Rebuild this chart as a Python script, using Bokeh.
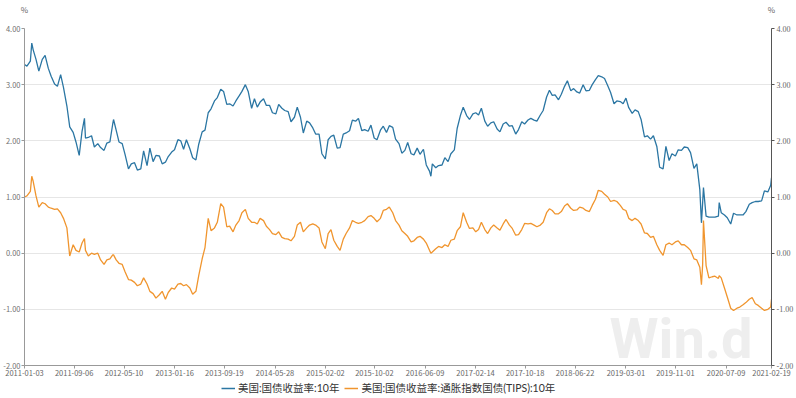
import pandas as pd
from bokeh.plotting import figure
from bokeh.layouts import column
from bokeh.models import (Range1d, LinearAxis, FixedTicker, NumeralTickFormatter,
                          DatetimeTickFormatter, CustomJSTickFormatter, Legend,
                          LegendItem, Label)
from bokeh.embed import file_html
from bokeh.resources import INLINE

# ---- data (semi-monthly readings: 1st and 15th of each month) ----
ten_year_2011 = [3.36, 3.33, 3.42, 3.62, 3.45, 3.24, 3.45, 3.52, 3.29, 3.15, 3.01, 2.97,
                 3.18, 2.95, 2.62, 2.25, 2.15, 1.98, 1.74, 2.17, 2.05, 2.06, 2.09, 1.89]
ten_year_2012 = [1.95, 1.88, 1.83, 1.96, 1.98, 2.30, 2.19, 1.98, 1.95, 1.76, 1.50, 1.59,
                 1.61, 1.48, 1.50, 1.82, 1.56, 1.87, 1.63, 1.74, 1.73, 1.59, 1.62, 1.72]
ten_year_2013 = [1.80, 1.84, 2.02, 2.00, 1.85, 2.02, 1.86, 1.70, 1.66, 1.94, 2.16, 2.19,
                 2.50, 2.57, 2.71, 2.77, 2.92, 2.88, 2.65, 2.66, 2.62, 2.71, 2.80, 2.88]
ten_year_2014 = [3.00, 2.88, 2.58, 2.75, 2.60, 2.69, 2.75, 2.63, 2.63, 2.50, 2.48, 2.65,
                 2.58, 2.54, 2.52, 2.34, 2.42, 2.60, 2.42, 2.14, 2.35, 2.32, 2.23, 2.12]
ten_year_2015 = [2.12, 1.77, 1.68, 2.02, 2.08, 2.10, 1.87, 1.88, 2.12, 2.14, 2.18, 2.37,
                 2.35, 2.40, 2.18, 2.20, 2.17, 2.28, 2.05, 2.02, 2.19, 2.26, 2.15, 2.27]
ten_year_2016 = [2.24, 2.03, 1.95, 1.78, 1.83, 1.97, 1.77, 1.75, 1.87, 1.76, 1.85, 1.57,
                 1.46, 1.59, 1.52, 1.56, 1.57, 1.70, 1.63, 1.77, 1.84, 2.22, 2.45, 2.60]
ten_year_2017 = [2.45, 2.38, 2.48, 2.50, 2.46, 2.58, 2.35, 2.26, 2.32, 2.34, 2.21, 2.16,
                 2.30, 2.33, 2.26, 2.27, 2.12, 2.20, 2.34, 2.30, 2.37, 2.40, 2.37, 2.35]
ten_year_2018 = [2.46, 2.54, 2.78, 2.90, 2.81, 2.82, 2.73, 2.83, 2.97, 3.07, 2.89, 2.93,
                 2.87, 2.85, 3.00, 2.89, 2.90, 3.00, 3.09, 3.16, 3.14, 3.11, 2.98, 2.86]
ten_year_2019 = [2.66, 2.71, 2.70, 2.66, 2.76, 2.59, 2.49, 2.55, 2.52, 2.38, 2.07, 2.09,
                 2.03, 2.09, 1.90, 1.53, 1.50, 1.90, 1.65, 1.77, 1.73, 1.84, 1.83, 1.89]
ten_year_2020 = [1.88, 1.79, 1.51, 1.59, 1.13, 0.90, 0.66, 0.64, 0.64, 0.64, 0.66, 0.72,
                 0.68, 0.63, 0.52, 0.71, 0.68, 0.68, 0.68, 0.74, 0.87, 0.90, 0.92, 0.92]
ten_year_2021 = [0.93, 1.11, 1.09, 1.21]

tips_2011 = [1.00, 1.02, 1.10, 1.28, 1.02, 0.82, 0.90, 0.88, 0.82, 0.80, 0.78, 0.79,
             0.72, 0.62, 0.45, -0.05, 0.15, 0.05, 0.02, 0.18, 0.05, -0.05, 0.00, -0.02]
tips_2012 = [0.00, -0.12, -0.20, -0.12, -0.10, -0.03, -0.12, -0.18, -0.20, -0.33, -0.47, -0.48,
             -0.52, -0.58, -0.55, -0.44, -0.55, -0.68, -0.72, -0.80, -0.74, -0.68, -0.82, -0.70]
tips_2013 = [-0.62, -0.64, -0.55, -0.54, -0.58, -0.56, -0.62, -0.73, -0.68, -0.40, -0.10, 0.10,
             0.62, 0.40, 0.45, 0.55, 0.88, 0.82, 0.47, 0.48, 0.38, 0.50, 0.58, 0.72]
tips_2014 = [0.78, 0.62, 0.55, 0.55, 0.52, 0.62, 0.58, 0.48, 0.42, 0.35, 0.33, 0.38,
             0.28, 0.26, 0.25, 0.22, 0.30, 0.50, 0.55, 0.38, 0.45, 0.50, 0.52, 0.50]
tips_2015 = [0.45, 0.20, 0.08, 0.35, 0.42, 0.23, 0.12, 0.05, 0.25, 0.35, 0.45, 0.58,
             0.55, 0.53, 0.55, 0.58, 0.65, 0.67, 0.62, 0.56, 0.62, 0.76, 0.78, 0.82]
tips_2016 = [0.72, 0.58, 0.50, 0.40, 0.35, 0.30, 0.20, 0.22, 0.28, 0.30, 0.25, 0.18,
             0.05, 0.02, 0.08, 0.12, 0.10, 0.15, 0.12, 0.23, 0.25, 0.40, 0.47, 0.72]
tips_2017 = [0.55, 0.44, 0.45, 0.38, 0.42, 0.55, 0.42, 0.35, 0.45, 0.50, 0.45, 0.41,
             0.52, 0.60, 0.50, 0.44, 0.32, 0.33, 0.42, 0.53, 0.52, 0.53, 0.50, 0.47]
tips_2018 = [0.50, 0.55, 0.72, 0.79, 0.76, 0.70, 0.70, 0.74, 0.84, 0.88, 0.80, 0.76,
             0.77, 0.82, 0.80, 0.76, 0.74, 0.85, 0.96, 1.12, 1.10, 1.05, 1.00, 0.92]
tips_2019 = [0.94, 0.92, 0.85, 0.78, 0.76, 0.62, 0.58, 0.62, 0.58, 0.52, 0.36, 0.35,
             0.28, 0.30, 0.15, 0.05, -0.04, 0.15, 0.18, 0.15, 0.20, 0.22, 0.15, 0.15]
tips_2020 = [0.10, 0.05, -0.10, -0.12, -0.25, -0.20, -0.22, -0.44, -0.42, -0.41, -0.45, -0.44,
             -0.62, -0.78, -0.98, -1.02, -0.98, -0.96, -0.92, -0.88, -0.82, -0.79, -0.90, -0.93]
tips_2021 = [-0.98, -1.02, -1.00, -0.96]

# extra readings at notable turning points
extra_dates = ["2011-02-08", "2011-10-27", "2012-03-19", "2016-07-08",
               "2020-03-09", "2020-03-19", "2020-06-05", "2021-02-19"]
extra_ten_year = [3.74, 2.40, 2.38, 1.37, 0.54, 1.17, 0.90, 1.34]
extra_tips = [1.37, 0.26, -0.03, 0.00, -0.56, 0.58, -0.40, -0.82]

x_tick_dates = ["2011-01-03", "2011-09-06", "2012-05-10", "2013-01-16", "2013-09-19",
                "2014-05-28", "2015-02-02", "2015-10-02", "2016-06-09", "2017-02-14",
                "2017-10-18", "2018-06-22", "2019-03-01", "2019-11-01", "2020-07-09",
                "2021-02-19"]
y_ticks = [-2, -1, 0, 1, 2, 3, 4]
unit_text = "%"

series_name_1 = "美国:国债收益率:10年"
series_name_2 = "美国:国债收益率:通胀指数国债(TIPS):10年"

ten_year = (ten_year_2011 + ten_year_2012 + ten_year_2013 + ten_year_2014 + ten_year_2015 +
            ten_year_2016 + ten_year_2017 + ten_year_2018 + ten_year_2019 + ten_year_2020 +
            ten_year_2021)
tips = (tips_2011 + tips_2012 + tips_2013 + tips_2014 + tips_2015 + tips_2016 + tips_2017 +
        tips_2018 + tips_2019 + tips_2020 + tips_2021)

grid = pd.date_range("2011-01-01", "2021-02-15", freq="SMS").tolist()
grid[0] = pd.Timestamp("2011-01-03")
assert len(grid) == len(ten_year) == len(tips)

df = pd.DataFrame({
    "date": grid + pd.to_datetime(extra_dates).tolist(),
    "nominal": ten_year + extra_ten_year,
    "real": tips + extra_tips,
}).sort_values("date").reset_index(drop=True)

BLUE = "#2b76a3"
ORANGE = "#f0952e"
FONT = "Noto Sans CJK SC"
LEGEND_FONT = "Lato, 'Noto Sans CJK SC'"

start = pd.Timestamp(x_tick_dates[0])
end = pd.Timestamp(x_tick_dates[-1])
to_ms = lambda t: pd.Timestamp(t).value / 1e6

p = figure(width=796, height=378, x_axis_type="datetime",
           x_range=Range1d(start, end), y_range=Range1d(-2, 4),
           output_backend="svg", toolbar_location=None,
           min_border_top=22, min_border_left=22, min_border_right=24, min_border_bottom=12)
p.outline_line_color = None
p.background_fill_color = "white"

r1 = p.line(df["date"], df["nominal"], line_color=BLUE, line_width=1.3)
r2 = p.line(df["date"], df["real"], line_color=ORANGE, line_width=1.3)

# grid
p.xgrid.grid_line_color = None
p.ygrid.ticker = FixedTicker(ticks=y_ticks)
p.ygrid.grid_line_color = "#e6e6e6"
p.ygrid.grid_line_width = 1

# x axis
xa = p.xaxis[0]
xa.ticker = FixedTicker(ticks=[to_ms(d) for d in x_tick_dates])
xa.formatter = DatetimeTickFormatter(days="%Y-%m-%d", months="%Y-%m-%d", years="%Y-%m-%d",
                                     hours="%Y-%m-%d", minutes="%Y-%m-%d", seconds="%Y-%m-%d",
                                     milliseconds="%Y-%m-%d", microseconds="%Y-%m-%d",
                                     hourmin="%Y-%m-%d", minsec="%Y-%m-%d")
xa.major_label_text_font = FONT
xa.major_label_text_font_size = "7.5px"
xa.major_label_text_color = "#666666"
xa.axis_line_color = "#999999"
xa.major_tick_line_color = "#999999"
xa.major_tick_out = 3
xa.major_tick_in = 0
xa.minor_tick_line_color = None
xa.major_label_standoff = 1

# "%" unit marks above both y axes
ua = LinearAxis(ticker=FixedTicker(ticks=[to_ms(start), to_ms(end)]),
                formatter=CustomJSTickFormatter(code="return '%s';" % unit_text))
ua.axis_line_color = None
ua.major_tick_line_color = None
ua.minor_tick_line_color = None
ua.major_label_standoff = 8
ua.major_label_text_font = FONT
ua.major_label_text_font_size = "8px"
ua.major_label_text_color = "#666666"
p.add_layout(ua, "above")

# left y axis
ya = p.yaxis[0]
ya.ticker = FixedTicker(ticks=y_ticks)
ya.formatter = NumeralTickFormatter(format="0.00")
ya.major_label_text_font = FONT
ya.major_label_text_font_size = "7.5px"
ya.major_label_text_color = "#707070"
ya.axis_line_color = "#999999"
ya.major_tick_line_color = "#999999"
ya.major_tick_out = 3
ya.major_tick_in = 0
ya.minor_tick_line_color = None
ya.major_label_standoff = 1

# right y axis
ra = LinearAxis(ticker=FixedTicker(ticks=y_ticks), formatter=NumeralTickFormatter(format="0.00"))
ra.major_label_text_font = "Liberation Serif"
ra.major_label_text_font_size = "8px"
ra.major_label_text_color = "#666666"
ra.axis_line_color = "#555555"
ra.major_tick_line_color = "#555555"
ra.major_tick_out = 3
ra.major_tick_in = 0
ra.minor_tick_line_color = None
ra.major_label_standoff = 2
p.add_layout(ra, "right")

# watermark
p.add_layout(Label(x=pd.Timestamp("2018-12-10"), y=-1.52, text="Win.d",
                   text_font="Roboto", text_font_style="bold", text_font_size="56px",
                   text_color="#eeeeee", text_baseline="alphabetic", level="underlay"))

# legend strip below the chart (series drawn out of view; only the key shows)
lg = figure(width=796, height=20, output_backend="svg", toolbar_location=None,
            x_axis_type="datetime", x_axis_location=None, y_axis_location=None, min_border=0,
            x_range=Range1d(start, end), y_range=Range1d(10, 11))
lg.outline_line_color = None
lg.xgrid.grid_line_color = None
lg.ygrid.grid_line_color = None
k1 = lg.line(df["date"], df["nominal"], line_color=BLUE, line_width=1.5)
k2 = lg.line(df["date"], df["real"], line_color=ORANGE, line_width=1.5)
legend = Legend(items=[LegendItem(label=series_name_1, renderers=[k1]),
                       LegendItem(label=series_name_2, renderers=[k2])],
                orientation="horizontal", location=(197, 3),
                label_text_font=LEGEND_FONT, label_text_font_size="10.5px",
                label_text_color="#333333", glyph_width=14, glyph_height=10,
                label_height=12, label_standoff=3, spacing=5, padding=1, margin=0,
                border_line_color=None, background_fill_alpha=0)
lg.add_layout(legend, "center")

layout = column(p, lg, spacing=0)
open("out.html", "w").write(file_html(layout, INLINE))
